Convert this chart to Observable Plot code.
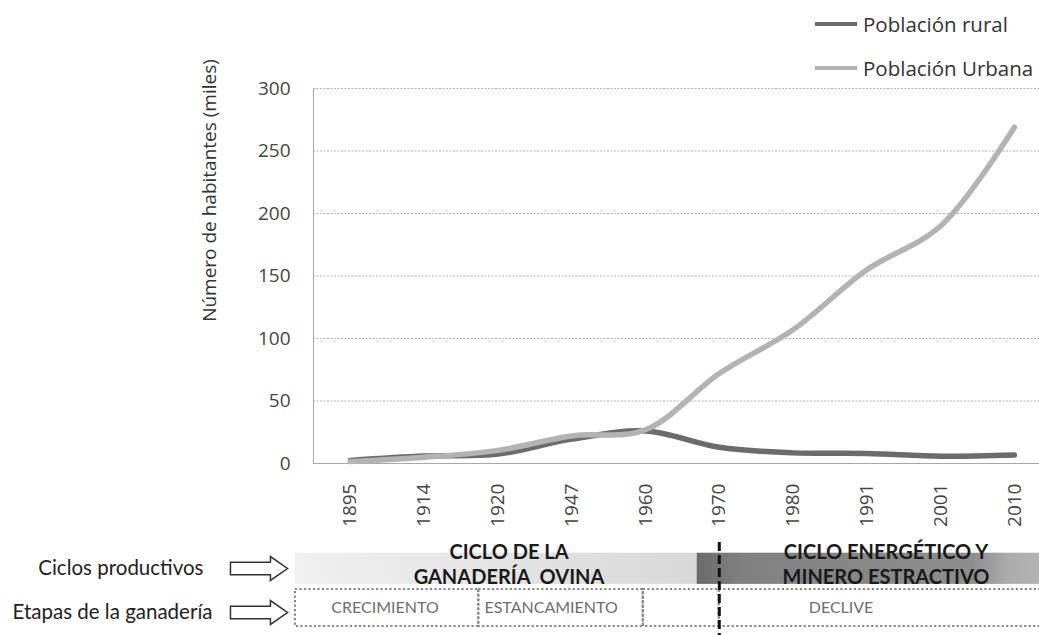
<!DOCTYPE html>
<html><head><meta charset="utf-8">
<script src="https://cdn.jsdelivr.net/npm/d3@7"></script>
<script src="https://cdn.jsdelivr.net/npm/@observablehq/plot@0.6"></script>
<style>
html,body{margin:0;padding:0;background:#fff;}
#wrap{position:relative;width:1039px;height:635px;overflow:hidden;background:#fff;}
#wrap svg{display:block;}
#legend{position:absolute;left:0;top:0;width:1039px;height:90px;font-family:"Open Sans",sans-serif;font-size:20.5px;color:#333;z-index:2;pointer-events:none;}
.item{position:absolute;left:815px;height:28px;display:flex;align-items:center;white-space:nowrap;}
.swatch{width:42px;height:4px;margin-right:6px;}
</style></head><body>
<div id="wrap"><div id="legend"></div></div>
<script>
// ---- data ----
const years = [1895, 1914, 1920, 1947, 1960, 1970, 1980, 1991, 2001, 2010];
const rural = [2.5, 6, 7.5, 19.5, 26, 13, 8.5, 8, 5.8, 6.8];
const urban = [1.5, 5, 10.5, 22, 27, 72, 107, 155, 190, 269];
const seriesNames = ["Población rural", "Población Urbana"];
const seriesColors = ["#6b6b6b", "#b3b3b3"];
const yTicks = [0, 50, 100, 150, 200, 250, 300];
const yTitle = "Número de habitantes (miles)";
const rowLabels = ["Ciclos productivos", "Etapas de la ganadería"];
const cycleLabels = ["CICLO DE LA\nGANADERÍA\u00a0 OVINA", "CICLO ENERGÉTICO Y\nMINERO ESTRACTIVO"];
const cycleStart = [-0.745, 4.70];
const cycleEnd = [4.70, 9.7];
const cycleLabelAt = [2.15, 7.26];
const cycleFill = ["url(#gLight)", "url(#gDark)"];
const stageLabels = ["CRECIMIENTO", "ESTANCAMIENTO", "", "DECLIVE"];
const stageStart = [-0.745, 1.74, 3.97, 5];
const stageEnd = [1.74, 3.97, 5, 9.7];
const stageLabelAt = [0.47, 2.72, 4.5, 6.65];
const shiftYear = 1970;

(function () {
// ---- tables ----
const idx = years.map((y, i) => i);
const lineData = [
  ...rural.map((v, i) => ({i, v, s: seriesNames[0]})),
  ...urban.map((v, i) => ({i, v, s: seriesNames[1]}))
];
const cycles = cycleLabels.map((label, k) => ({label, start: cycleStart[k], end: cycleEnd[k], at: cycleLabelAt[k], fill: cycleFill[k]}));
const stages = stageLabels.map((label, k) => ({label, start: stageStart[k], end: stageEnd[k], at: stageLabelAt[k]}));

const xDomain = [-0.5, 9.34];
const FONT = "'Open Sans', sans-serif";
const LATO = "Lato, sans-serif";

// ---- main chart ----
const mainChart = Plot.plot({
  width: 1039, height: 538,
  marginLeft: 313, marginRight: 0, marginTop: 88, marginBottom: 75,
  style: {fontFamily: FONT, fontSize: "19px", background: "transparent", color: "#444"},
  x: {type: "linear", domain: xDomain, axis: null},
  y: {domain: [0, 300], axis: null},
  color: {domain: seriesNames, range: seriesColors},
  marks: [
    Plot.gridY(yTicks.slice(1), {stroke: "#b0b0b0", strokeOpacity: 1, strokeDasharray: "2,1.5"}),
    Plot.ruleY([0], {stroke: "#a8a8a8"}),
    Plot.ruleX([xDomain[0]], {stroke: "#a8a8a8"}),
    Plot.axisY({ticks: yTicks, tickSize: 0, tickPadding: 23, fontSize: 19, fill: "#444", label: null}),
    Plot.axisX({ticks: idx, tickFormat: i => String(years[i]), tickRotate: -90, tickSize: 0, tickPadding: 20, fontSize: 19, fill: "#444", label: null}),
    Plot.text([yTitle], {frameAnchor: "top-left", dx: -111, dy: 102, rotate: -90, textAnchor: "middle", fontSize: 19, fill: "#333"}),
    Plot.line(lineData, {x: "i", y: "v", z: "s", stroke: "s", strokeWidth: 5.5, curve: "catmull-rom", strokeLinecap: "round", strokeLinejoin: "round"})
  ]
});

// ---- arrow symbol ----
const arrowSymbol = {
  draw(ctx, size) {
    const w = Math.sqrt(size), h = w * 0.42, sh = w * 0.22, hx = w * 0.3;
    ctx.moveTo(-w / 2, -sh / 2);
    ctx.lineTo(w / 2 - hx, -sh / 2);
    ctx.lineTo(w / 2 - hx, -h / 2);
    ctx.lineTo(w / 2, 0);
    ctx.lineTo(w / 2 - hx, h / 2);
    ctx.lineTo(w / 2 - hx, sh / 2);
    ctx.lineTo(-w / 2, sh / 2);
    ctx.closePath();
  }
};
const rowDy = [0.5, 4.5];
const rowDx = [-110, -101];
const rowMarks = rowLabels.flatMap((r, k) => [
  Plot.text([r], {y: () => r, text: d => d, frameAnchor: "left", dx: rowDx[k], dy: rowDy[k], textAnchor: "end", fontSize: 20.5, fontFamily: LATO, fill: "#222"}),
  Plot.dot([r], {y: () => r, frameAnchor: "left", dx: -54.5, dy: rowDy[k], r: 32.2, symbol: arrowSymbol, fill: "white", stroke: "#333", strokeWidth: 1.5})
]);

// ---- bottom annotation panel ----
const bottom = Plot.plot({
  width: 1039, height: 97,
  marginLeft: 313, marginRight: 0, marginTop: 0, marginBottom: 0,
  style: {fontFamily: LATO, background: "transparent"},
  x: {type: "linear", domain: xDomain, axis: null},
  y: {type: "band", domain: rowLabels, range: [10, 88], paddingInner: 0.08, paddingOuter: 0, axis: null},
  color: {type: "identity"},
  marks: [
    Plot.barX(cycles, {x1: "start", x2: "end", y: () => rowLabels[0], fill: "fill", insetTop: 3.7, insetBottom: 2.1}),
    Plot.text(cycles, {x: "at", y: () => rowLabels[0], text: "label", dy: -4.2, fontSize: 20, fontWeight: "bold", fill: "#1a1a1a", lineHeight: 1.25, fontFamily: LATO}),
    Plot.barX(stages, {x1: "start", x2: "end", y: () => rowLabels[1], fill: "none", stroke: "#888", strokeWidth: 2.2, strokeDasharray: "2.2,2.3"}),
    Plot.text(stages, {x: "at", y: () => rowLabels[1], text: "label", fontSize: 16, fill: "#6e6e6e", fontFamily: LATO}),
    ...rowMarks,
    Plot.ruleX([years.indexOf(shiftYear)], {stroke: "#111", strokeWidth: 3, strokeDasharray: "9,4", insetTop: 4})
  ]
});

// gradients
const defs = d3.select(bottom).insert("defs", ":first-child");
const gl = defs.append("linearGradient").attr("id", "gLight");
gl.append("stop").attr("offset", "0").attr("stop-color", "#f0f0f0");
gl.append("stop").attr("offset", "1").attr("stop-color", "#d8d8d8");
const gd = defs.append("linearGradient").attr("id", "gDark");
gd.append("stop").attr("offset", "0").attr("stop-color", "#6a6a6a");
gd.append("stop").attr("offset", "0.12").attr("stop-color", "#808080");
gd.append("stop").attr("offset", "0.75").attr("stop-color", "#8e8e8e");
gd.append("stop").attr("offset", "0.85").attr("stop-color", "#adadad");
gd.append("stop").attr("offset", "1").attr("stop-color", "#b8b8b8");

const wrap = document.getElementById("wrap");
wrap.appendChild(mainChart);
wrap.appendChild(bottom);

// legend
const legend = document.getElementById("legend");
const legendCenters = [24, 68];
seriesNames.forEach((name, k) => {
  const item = document.createElement("div");
  item.className = "item";
  item.style.top = (legendCenters[k] - 14) + "px";
  const sw = document.createElement("div");
  sw.className = "swatch";
  sw.style.background = seriesColors[k];
  const tx = document.createElement("span");
  tx.textContent = name;
  item.appendChild(sw);
  item.appendChild(tx);
  legend.appendChild(item);
});
})();
</script>
</body></html>
